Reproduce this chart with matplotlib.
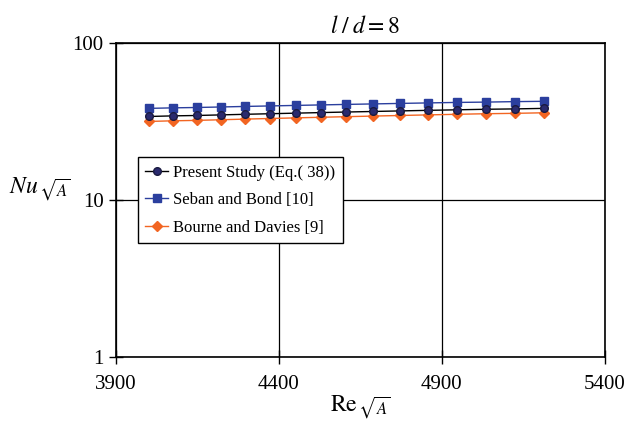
import numpy as np
import matplotlib.pyplot as plt

plt.rcParams['font.family'] = ['Liberation Serif', 'DejaVu Serif']
plt.rcParams['mathtext.fontset'] = 'stix'

# Reynolds numbers of the test points
re = [4001, 4075, 4148, 4222, 4295, 4372, 4451, 4528,
      4607, 4690, 4773, 4856, 4945, 5034, 5123, 5213]

# Nusselt numbers for each correlation
nu_present = [34.1, 34.4, 34.6, 34.9, 35.2, 35.5, 35.8, 36.1,
              36.4, 36.7, 37.0, 37.3, 37.6, 37.9, 38.1, 38.4]
nu_seban = [38.4, 38.7, 38.9, 39.2, 39.5, 39.8, 40.1, 40.4,
            40.7, 41.0, 41.3, 41.6, 41.9, 42.1, 42.4, 42.6]
nu_bourne = [31.7, 32.0, 32.2, 32.5, 32.8, 33.1, 33.4, 33.7,
             34.0, 34.3, 34.6, 34.9, 35.2, 35.5, 35.7, 36.0]

fig = plt.figure(figsize=(6.32, 4.23), dpi=100)
ax = fig.add_axes([0.1835, 0.156, 0.7735, 0.742])

ax.plot(re, nu_present, color="black", linewidth=1, marker="o", markersize=5.5,
        markerfacecolor="#2a2a6e", markeredgecolor="#1a1a40",
        label="Present Study (Eq.( 38))", zorder=4)
ax.plot(re, nu_seban, color="#2b3f9e", linewidth=1, marker="s", markersize=6,
        markerfacecolor="#2b3f9e", markeredgecolor="#2b3f9e",
        label="Seban and Bond [10]", zorder=3)
ax.plot(re, nu_bourne, color="#f26522", linewidth=1, marker="D", markersize=5,
        markerfacecolor="#f26522", markeredgecolor="#f26522",
        label="Bourne and Davies [9]", zorder=3)

ax.set_yscale("log")
ax.set_ylim(1, 100)
ax.set_xlim(3900, 5400)
ax.set_xticks([3900, 4400, 4900, 5400])
ax.set_yticks([1, 10, 100])
ax.set_yticklabels(["1", "10", "100"])
ax.minorticks_off()
ax.tick_params(direction="inout", length=10, width=1, labelsize=15, colors="black")
ax.tick_params(axis="x", pad=8)
ax.tick_params(axis="y", pad=4)
ax.grid(True, color="black", linewidth=0.9)
ax.set_axisbelow(True)
for s in ax.spines.values():
    s.set_linewidth(1.2)

ax.set_title(r"$l\;/\;d = 8$", fontsize=17, pad=7, x=0.51)
ax.set_xlabel(r"$\mathrm{Re}_{\,\sqrt{A}}$", fontsize=17, labelpad=0)
ax.set_ylabel(r"$Nu_{\,\sqrt{A}}$", fontsize=17, rotation=0)
ax.yaxis.set_label_coords(-0.155, 0.49)

leg = ax.legend(loc="upper left", bbox_to_anchor=(0.045, 0.637), fontsize=12,
                frameon=True, fancybox=False, borderpad=0.45, labelspacing=0.7,
                handlelength=1.35, handletextpad=0.3, borderaxespad=0)
leg.get_frame().set_edgecolor("black")
leg.get_frame().set_linewidth(1)
leg.get_frame().set_alpha(1)

fig.savefig("out.png", dpi=100)
